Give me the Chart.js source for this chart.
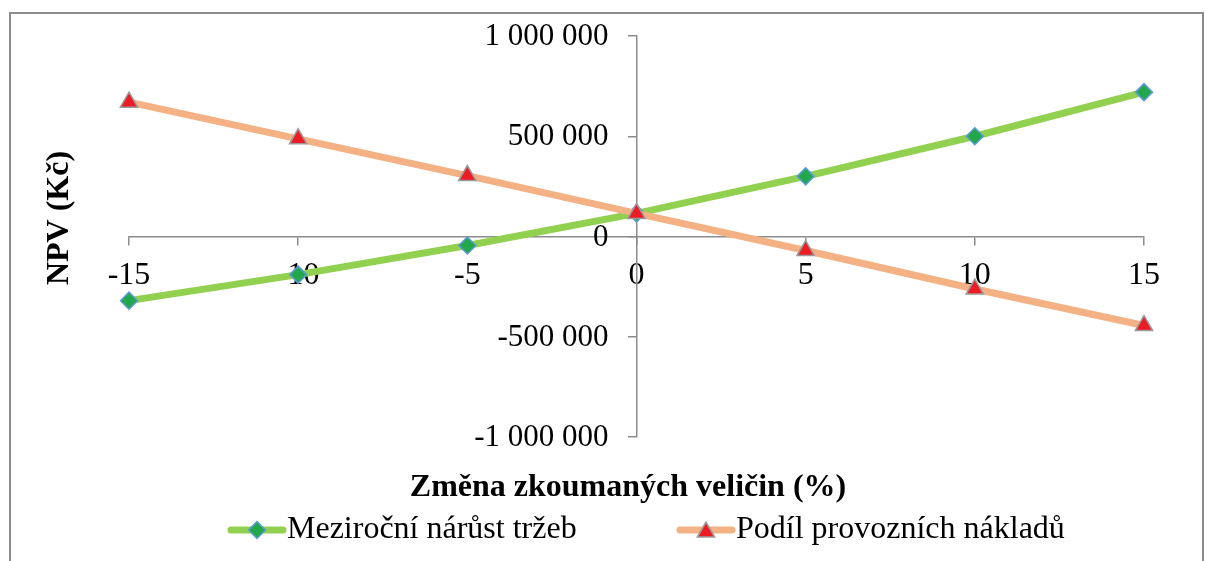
<!DOCTYPE html>
<html>
<head>
<meta charset="utf-8">
<script src="https://cdn.jsdelivr.net/npm/chart.js@4.4.1/dist/chart.umd.min.js"></script>
<style>
  html, body { margin: 0; padding: 0; background: #fff; overflow: hidden; }
  #wrap { position: relative; width: 1205px; height: 561px; }
  #frame { position: absolute; left: 9px; top: 12px; width: 1195px; height: 640px; border: 2px solid #8c8c8c; box-sizing: border-box; }
  canvas { position: absolute; left: 0; top: 0; }
</style>
</head>
<body>
<div id="wrap">
  <div id="frame"></div>
  <canvas id="c" width="1205" height="561"></canvas>
</div>
<script>
const changes = [-15, -10, -5, 0, 5, 10, 15];
const seriesNames = ['Meziroční nárůst tržeb', 'Podíl provozních nákladů'];
const revenueGrowth = [-320000, -190000, -45000, 115000, 300000, 500000, 720000];
const operatingCosts = [670000, 487000, 304000, 115000, -70000, -262000, -444000];
const yTicks = [-1000000, -500000, 0, 500000, 1000000];
const xTitle = 'Změna zkoumaných veličin (%)';
const yTitle = 'NPV (Kč)';

const FONT = '"Liberation Serif", "Times New Roman", serif';

function fmt(v) {
  const s = Math.abs(v).toString().replace(/\B(?=(\d{3})+(?!\d))/g, ' ');
  return (v < 0 ? '-' : '') + s;
}

const extras = {
  id: 'extras',
  afterDraw(chart) {
    const ctx = chart.ctx;
    const xs = chart.scales.x, ys = chart.scales.y;
    ctx.save();
    // Y tick labels, placed left of the centred vertical axis
    ctx.fillStyle = '#000';
    ctx.font = '31px ' + FONT;
    ctx.textAlign = 'right';
    ctx.textBaseline = 'middle';
    const axisX = xs.getPixelForValue(0);
    yTicks.forEach(v => {
      ctx.fillText(fmt(v), axisX - 28, ys.getPixelForValue(v) + 1);
    });
    // Axis titles
    ctx.font = 'bold 32px ' + FONT;
    ctx.textAlign = 'center';
    ctx.fillText(xTitle, 628, 488);
    ctx.save();
    ctx.translate(60, 218);
    ctx.rotate(-Math.PI / 2);
    ctx.fillText(yTitle, 0, 0);
    ctx.restore();
    // Legend
    const items = [
      { x: 228, ds: chart.data.datasets[0] },
      { x: 677, ds: chart.data.datasets[1] }
    ];
    const ly = 530;
    items.forEach(it => {
      const ds = it.ds;
      ctx.strokeStyle = ds.borderColor;
      ctx.lineWidth = ds.borderWidth;
      ctx.lineCap = 'round';
      ctx.beginPath();
      ctx.moveTo(it.x + 3, ly);
      ctx.lineTo(it.x + 55, ly);
      ctx.stroke();
      ctx.lineCap = 'butt';
      ctx.fillStyle = ds.pointBackgroundColor;
      ctx.strokeStyle = ds.pointBorderColor;
      ctx.lineWidth = ds.pointBorderWidth;
      Chart.helpers.drawPoint(ctx, {
        pointStyle: ds.pointStyle,
        radius: ds.pointRadius,
        rotation: 0,
        borderWidth: ds.pointBorderWidth
      }, it.x + 29, ds.pointStyle === 'triangle' ? ly + 2 : ly);
      ctx.fillStyle = '#000';
      ctx.font = '32px ' + FONT;
      ctx.textAlign = 'left';
      ctx.textBaseline = 'middle';
      ctx.fillText(ds.label, it.x + 59, ly);
    });
    ctx.restore();
  }
};

const ctx = document.getElementById('c').getContext('2d');
const chart = new Chart(ctx, {
  type: 'line',
  data: {
    datasets: [
      {
        label: seriesNames[0],
        data: changes.map((x, i) => ({ x: x, y: revenueGrowth[i] })),
        borderColor: '#92D050',
        borderWidth: 7,
        pointStyle: 'rectRot',
        pointRadius: 8.5,
        pointBackgroundColor: '#22A84A',
        pointBorderColor: '#5B9BD5',
        pointBorderWidth: 1.5,
        tension: 0,
        clip: false,
        order: 2
      },
      {
        label: seriesNames[1],
        data: changes.map((x, i) => ({ x: x, y: operatingCosts[i] })),
        borderColor: '#F4B183',
        borderWidth: 7,
        pointStyle: 'triangle',
        pointRadius: 10,
        pointBackgroundColor: '#ED1C24',
        pointBorderColor: '#9A9A9A',
        pointBorderWidth: 1.5,
        tension: 0,
        clip: false,
        order: 1
      }
    ]
  },
  options: {
    responsive: false,
    animation: false,
    layout: { padding: { left: 129, right: 61, top: 36, bottom: 124 } },
    plugins: {
      legend: { display: false },
      tooltip: { enabled: false }
    },
    scales: {
      x: {
        type: 'linear',
        position: { y: 0 },
        min: -15, max: 15,
        ticks: {
          stepSize: 5,
          color: '#000',
          font: { family: FONT, size: 32 },
          padding: 12,
          maxRotation: 0
        },
        grid: { drawOnChartArea: false, tickLength: 8, color: '#8c8c8c', lineWidth: 1.5 },
        border: { color: '#8c8c8c', width: 1.5 }
      },
      y: {
        type: 'linear',
        position: { x: 0 },
        min: -1000000, max: 1000000,
        afterBuildTicks(scale) { scale.ticks = yTicks.map(v => ({ value: v })); },
        ticks: { display: false },
        grid: { drawOnChartArea: false, tickLength: 8, color: '#8c8c8c', lineWidth: 1.5 },
        border: { color: '#8c8c8c', width: 1.5 }
      }
    }
  },
  plugins: [extras]
});
</script>
</body>
</html>
